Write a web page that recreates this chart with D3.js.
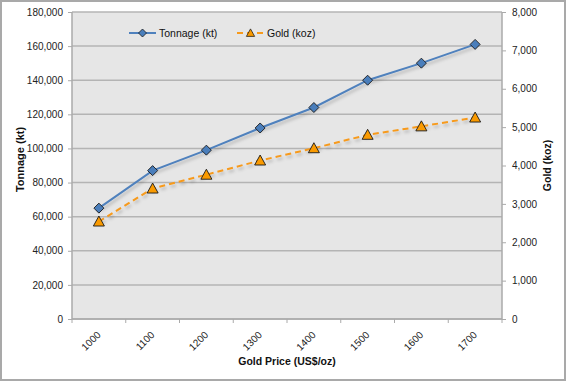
<!DOCTYPE html>
<html><head><meta charset="utf-8">
<script src="https://cdn.jsdelivr.net/npm/d3@7"></script>
<style>
html,body{margin:0;padding:0;background:#fff;}
svg{display:block;font-family:"Liberation Sans",Arial,Helvetica,sans-serif;}
</style></head>
<body>
<svg id="chart" width="566" height="381"></svg>
<script>
const categories = ["1000","1100","1200","1300","1400","1500","1600","1700"];
const tonnage = [65000, 87000, 99000, 112000, 124000, 140000, 150000, 161000];
const gold = [2540, 3400, 3760, 4130, 4450, 4800, 5020, 5250];
const leftTicks = [0,20000,40000,60000,80000,100000,120000,140000,160000,180000];
const rightTicks = [0,1000,2000,3000,4000,5000,6000,7000,8000];

const W = 566, H = 381;
const m = {left:72, right:502, top:12, bottom:319};
const svg = d3.select("#chart");

// outer frame
svg.append("rect").attr("x",1).attr("y",1).attr("width",W-2).attr("height",H-2)
  .attr("fill","#fff").attr("stroke","#a9a9a9").attr("stroke-width",2);

const defs = svg.append("defs");
const f = defs.append("filter").attr("id","shadow").attr("x","-10%").attr("y","-10%").attr("width","130%").attr("height","140%");
f.append("feDropShadow").attr("dx",1.5).attr("dy",2.5).attr("stdDeviation",1.5)
  .attr("flood-color","#000").attr("flood-opacity",0.22);

const x = d3.scaleBand().domain(categories).range([m.left,m.right]).padding(0);
const yL = d3.scaleLinear().domain([0,180000]).range([m.bottom,m.top]);
const yR = d3.scaleLinear().domain([0,8000]).range([m.bottom,m.top]);
const cx = c => x(c) + x.bandwidth()/2;

// plot background
svg.append("rect").attr("x",m.left).attr("y",m.top).attr("width",m.right-m.left).attr("height",m.bottom-m.top)
  .attr("fill","#e6e6e6");

// gridlines
svg.append("g").selectAll("line").data(leftTicks).join("line")
  .attr("x1",m.left).attr("x2",m.right).attr("y1",d=>yL(d)).attr("y2",d=>yL(d))
  .attr("stroke","#b4b4b4").attr("stroke-width",1.5);

// axis lines
svg.append("line").attr("x1",m.left).attr("x2",m.left).attr("y1",m.top).attr("y2",m.bottom).attr("stroke","#aaa").attr("stroke-width",1.5);
svg.append("line").attr("x1",m.right).attr("x2",m.right).attr("y1",m.top).attr("y2",m.bottom).attr("stroke","#aaa").attr("stroke-width",1.5);
svg.append("line").attr("x1",m.left).attr("x2",m.right).attr("y1",m.bottom).attr("y2",m.bottom).attr("stroke","#aaa").attr("stroke-width",1.5);

const fmt = d3.format(",");
// left axis
const gl = svg.append("g").attr("transform",`translate(${m.left},0)`)
  .call(d3.axisLeft(yL).tickValues(leftTicks).tickFormat(fmt).tickSize(4).tickPadding(5));
// right axis
const gr = svg.append("g").attr("transform",`translate(${m.right},0)`)
  .call(d3.axisRight(yR).tickValues(rightTicks).tickFormat(fmt).tickSize(4).tickPadding(6));
[gl,gr].forEach(g=>{
  g.select(".domain").remove();
  g.selectAll(".tick line").attr("stroke","#aaa");
  g.selectAll(".tick text").attr("fill","#222").style("font-size","10px");
});

// bottom ticks at band boundaries
const bounds = categories.map(c=>x(c)).concat([m.right]);
svg.append("g").selectAll("line").data(bounds).join("line")
  .attr("x1",d=>d).attr("x2",d=>d).attr("y1",m.bottom).attr("y2",m.bottom+4)
  .attr("stroke","#aaa");
// bottom labels
svg.append("g").selectAll("text").data(categories).join("text")
  .attr("transform",d=>`translate(${cx(d)},333) rotate(-45)`)
  .attr("text-anchor","end").attr("dy","0.35em")
  .attr("fill","#222").style("font-size","10px").text(d=>d);

// axis titles
svg.append("text").attr("x",(m.left+m.right)/2).attr("y",365).attr("text-anchor","middle")
  .style("font-size","10.5px").style("font-weight","bold").attr("fill","#111").text("Gold Price (US$/oz)");
svg.append("text").attr("transform",`translate(24,${(m.top+m.bottom)/2 - 6}) rotate(-90)`).attr("text-anchor","middle")
  .style("font-size","11px").style("font-weight","bold").attr("fill","#111").text("Tonnage (kt)");
svg.append("text").attr("transform",`translate(551,${(m.top+m.bottom)/2}) rotate(-90)`).attr("text-anchor","middle")
  .style("font-size","10.5px").style("font-weight","bold").attr("fill","#111").text("Gold (koz)");

const blue = "#4f81bd", orange = "#f79a1c";
const diamond = d3.symbol().type(d3.symbolDiamond2 || d3.symbolSquare2).size(60);
const diamondPath = "M0,-5L5,0L0,5L-5,0Z";
const triPath = "M0,-5.5L5.5,4.5L-5.5,4.5Z";

// tonnage line
const lineT = d3.line().x((d,i)=>cx(categories[i])).y(d=>yL(d));
svg.append("path").datum(tonnage).attr("d",lineT).attr("fill","none")
  .attr("stroke",blue).attr("stroke-width",2).attr("filter","url(#shadow)");
// gold line
const lineG = d3.line().x((d,i)=>cx(categories[i])).y(d=>yR(d));
svg.append("path").datum(gold).attr("d",lineG).attr("fill","none")
  .attr("stroke",orange).attr("stroke-width",2).attr("stroke-dasharray","6,4").attr("filter","url(#shadow)");

// markers
svg.append("g").selectAll("path").data(tonnage).join("path")
  .attr("transform",(d,i)=>`translate(${cx(categories[i])},${yL(d)})`)
  .attr("d",diamondPath).attr("fill","#4a7ebb").attr("stroke","#1a1a1a").attr("stroke-width",0.9);
svg.append("g").selectAll("path").data(gold).join("path")
  .attr("transform",(d,i)=>`translate(${cx(categories[i])},${yR(d)})`)
  .attr("d",triPath).attr("fill","#fa9a00").attr("stroke","#1a1a1a").attr("stroke-width",0.9);

// legend
const lg = svg.append("g");
lg.append("line").attr("x1",129).attr("x2",156).attr("y1",33).attr("y2",33).attr("stroke",blue).attr("stroke-width",2);
lg.append("path").attr("transform","translate(142.5,33) scale(0.8)").attr("d",diamondPath)
  .attr("fill","#4a7ebb").attr("stroke","#1a1a1a").attr("stroke-width",1);
lg.append("text").attr("x",159).attr("y",33).attr("dy","0.35em").style("font-size","10.5px").attr("fill","#111").text("Tonnage (kt)");
lg.append("line").attr("x1",237).attr("x2",264).attr("y1",33).attr("y2",33).attr("stroke",orange).attr("stroke-width",2).attr("stroke-dasharray","6,4");
lg.append("path").attr("transform","translate(250.5,33) scale(0.75)").attr("d",triPath)
  .attr("fill","#fa9a00").attr("stroke","#1a1a1a").attr("stroke-width",1);
lg.append("text").attr("x",267).attr("y",33).attr("dy","0.35em").style("font-size","10.5px").attr("fill","#111").text("Gold (koz)");
</script>
</body></html>
